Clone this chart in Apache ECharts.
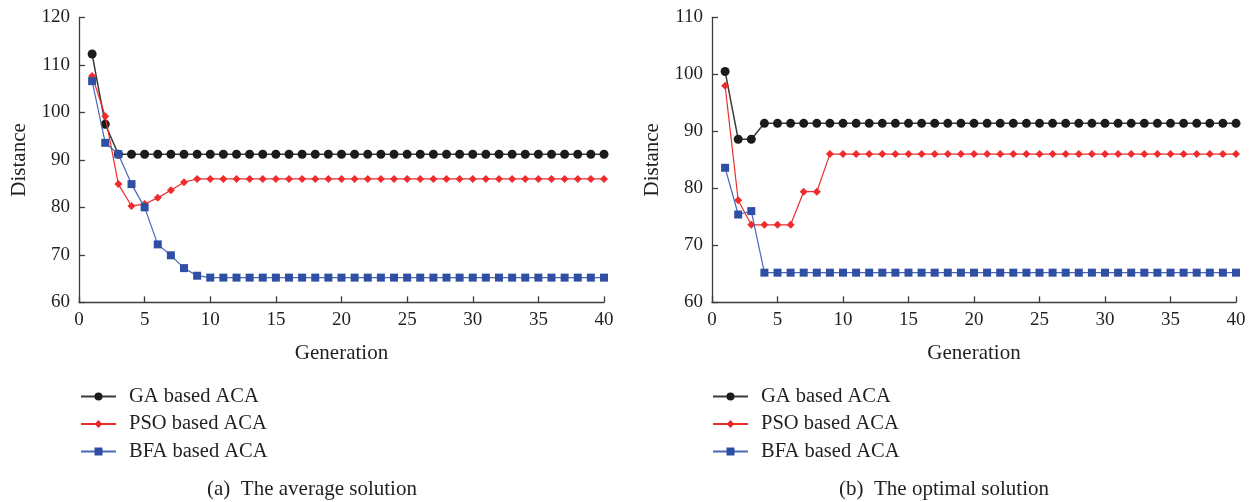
<!DOCTYPE html>
<html>
<head>
<meta charset="utf-8">
<script src="https://cdn.jsdelivr.net/npm/echarts@6/dist/echarts.min.js"></script>
<style>
html,body{margin:0;padding:0;background:#fff;}
#chart{width:1254px;height:502px;}
</style>
</head>
<body>
<div id="chart"></div>
<script>
const generations = [1,2,3,4,5,6,7,8,9,10,11,12,13,14,15,16,17,18,19,20,21,22,23,24,25,26,27,28,29,30,31,32,33,34,35,36,37,38,39,40];
const seriesNames = ['GA based ACA', 'PSO based ACA', 'BFA based ACA'];
const captions = ['(a)  The average solution', '(b)  The optimal solution'];
const xTicks = [0,5,10,15,20,25,30,35,40];
const yTicksA = [60,70,80,90,100,110,120];
const yTicksB = [60,70,80,90,100,110];

// (a) average solution
const gaAvg  = [112.3,97.5,91.2,91.2,91.2,91.2,91.2,91.2,91.2,91.2,91.2,91.2,91.2,91.2,91.2,91.2,91.2,91.2,91.2,91.2,91.2,91.2,91.2,91.2,91.2,91.2,91.2,91.2,91.2,91.2,91.2,91.2,91.2,91.2,91.2,91.2,91.2,91.2,91.2,91.2];
const psoAvg = [107.7,99.2,84.9,80.3,80.7,82.0,83.6,85.3,86.0,86.0,86.0,86.0,86.0,86.0,86.0,86.0,86.0,86.0,86.0,86.0,86.0,86.0,86.0,86.0,86.0,86.0,86.0,86.0,86.0,86.0,86.0,86.0,86.0,86.0,86.0,86.0,86.0,86.0,86.0,86.0];
const bfaAvg = [106.6,93.6,91.2,84.9,80.0,72.2,69.9,67.2,65.6,65.2,65.2,65.2,65.2,65.2,65.2,65.2,65.2,65.2,65.2,65.2,65.2,65.2,65.2,65.2,65.2,65.2,65.2,65.2,65.2,65.2,65.2,65.2,65.2,65.2,65.2,65.2,65.2,65.2,65.2,65.2];

// (b) optimal solution
const gaOpt  = [100.5,88.6,88.6,91.4,91.4,91.4,91.4,91.4,91.4,91.4,91.4,91.4,91.4,91.4,91.4,91.4,91.4,91.4,91.4,91.4,91.4,91.4,91.4,91.4,91.4,91.4,91.4,91.4,91.4,91.4,91.4,91.4,91.4,91.4,91.4,91.4,91.4,91.4,91.4,91.4];
const psoOpt = [98.0,77.9,73.6,73.6,73.6,73.6,79.4,79.4,86.0,86.0,86.0,86.0,86.0,86.0,86.0,86.0,86.0,86.0,86.0,86.0,86.0,86.0,86.0,86.0,86.0,86.0,86.0,86.0,86.0,86.0,86.0,86.0,86.0,86.0,86.0,86.0,86.0,86.0,86.0,86.0];
const bfaOpt = [83.6,75.4,76.0,65.2,65.2,65.2,65.2,65.2,65.2,65.2,65.2,65.2,65.2,65.2,65.2,65.2,65.2,65.2,65.2,65.2,65.2,65.2,65.2,65.2,65.2,65.2,65.2,65.2,65.2,65.2,65.2,65.2,65.2,65.2,65.2,65.2,65.2,65.2,65.2,65.2];

const FONT = 'Liberation Serif';
const TXT = '#231f20';

function pairs(vals){ return generations.map((g,i)=>[g, vals[i]]); }

const styles = [
  {symbol:'circle', symbolSize:9, color:'#1b1b1b', line:'#3a3a3a', width:1.5},
  {symbol:'diamond', symbolSize:8, color:'#ef2b2d', line:'#ef2b2d', width:1.2},
  {symbol:'rect', symbolSize:8, color:'#2e4fa3', line:'#4a68b8', width:1.2}
];

function makeSeries(idx, data, gi){
  const s = styles[idx];
  return {
    type:'line', name: seriesNames[idx], xAxisIndex:gi, yAxisIndex:gi,
    data: pairs(data), symbol:s.symbol, symbolSize:s.symbolSize,
    showSymbol:true, animation:false,
    itemStyle:{color:s.color},
    lineStyle:{color:s.line, width:s.width},
    z: 2+idx
  };
}

function xAxis(gi){
  return {
    gridIndex:gi, type:'value', min:0, max:40, interval:5,
    name:'Generation', nameLocation:'middle', nameGap:41,
    nameTextStyle:{fontFamily:FONT, fontSize:21, color:TXT},
    axisLine:{show:true, lineStyle:{color:'#3c3c3c', width:1.3}},
    axisTick:{show:true, inside:true, length:6, lineStyle:{color:'#3c3c3c', width:1.3}},
    axisLabel:{fontFamily:FONT, fontSize:19, color:TXT, margin:8,
      formatter: v => xTicks.includes(v) ? String(v) : ''},
    splitLine:{show:false}
  };
}
function yAxis(gi, max, ticks){
  return {
    gridIndex:gi, type:'value', min:60, max:max, interval:10,
    name:'Distance', nameLocation:'middle', nameGap:49, nameRotate:90,
    nameTextStyle:{fontFamily:FONT, fontSize:21, color:TXT},
    axisLine:{show:true, lineStyle:{color:'#3c3c3c', width:1.3}},
    axisTick:{show:true, inside:true, length:6, lineStyle:{color:'#3c3c3c', width:1.3}},
    axisLabel:{fontFamily:FONT, fontSize:19, color:TXT, margin:9,
      formatter: v => ticks.includes(v) ? String(v) : ''},
    splitLine:{show:false}
  };
}
function legend(left){
  return {
    orient:'vertical', left:left, top:386, padding:0, itemWidth:35, itemHeight:10, itemGap:6.5,
    data: seriesNames,
    textStyle:{fontFamily:FONT, fontSize:20.5, color:TXT, padding:[0,0,0,8]},
    selectedMode:false
  };
}

const option = {
  backgroundColor:'#fff',
  animation:false,
  grid:[
    {left:79, right:650, top:17.5, bottom:199.7},
    {left:712, right:18, top:17.3, bottom:199.7}
  ],
  xAxis:[xAxis(0), xAxis(1)],
  yAxis:[yAxis(0,120,yTicksA), yAxis(1,110,yTicksB)],
  legend:[legend(80), legend(712)],
  title:[
    {text:captions[0], left:312, top:479, textAlign:'center', padding:0,
     textStyle:{fontFamily:FONT, fontSize:21, fontWeight:'normal', color:TXT}},
    {text:captions[1], left:944, top:479, textAlign:'center', padding:0,
     textStyle:{fontFamily:FONT, fontSize:21, fontWeight:'normal', color:TXT}}
  ],
  series:[
    makeSeries(0, gaAvg, 0), makeSeries(1, psoAvg, 0), makeSeries(2, bfaAvg, 0),
    makeSeries(0, gaOpt, 1), makeSeries(1, psoOpt, 1), makeSeries(2, bfaOpt, 1)
  ]
};

const chart = echarts.init(document.getElementById('chart'), null, {renderer:'canvas'});
chart.setOption(option);
</script>
</body>
</html>
